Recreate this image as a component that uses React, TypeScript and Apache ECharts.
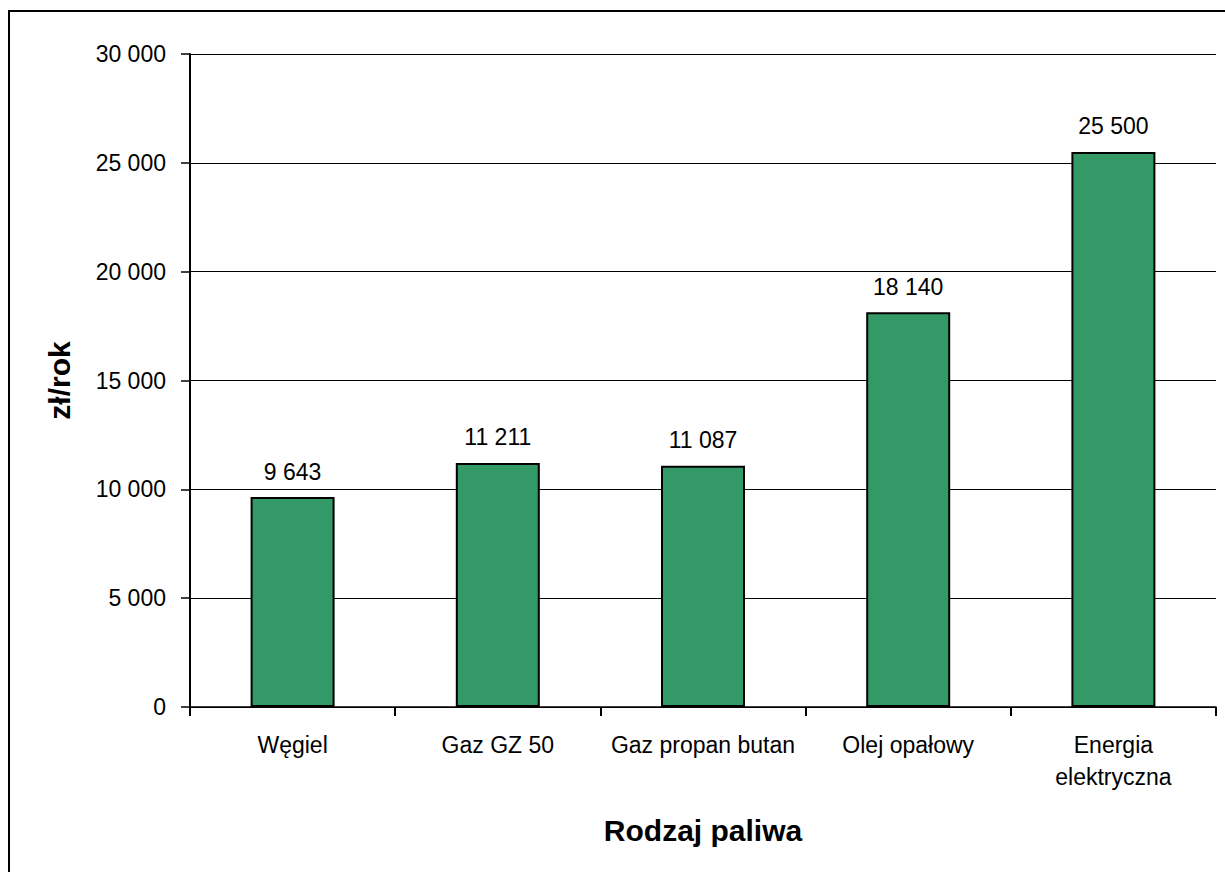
import React, { useEffect, useRef } from "react";
import * as echarts from "echarts";

const categories = ["Węgiel", "Gaz GZ 50", "Gaz propan butan", "Olej opałowy", "Energia\nelektryczna"];
const costs = [9643, 11211, 11087, 18140, 25500];
const yTicks = { min: 0, max: 30000, interval: 5000 };
const yName = "zł/rok";
const xName = "Rodzaj paliwa";

const fmt = (v: number) => String(v).replace(/\B(?=(\d{3})+(?!\d))/g, " ");
const FONT = "'Liberation Sans', Arial, sans-serif";

export default function App() {
  const ref = useRef<HTMLDivElement>(null);
  useEffect(() => {
    if (!ref.current) return;
    const chart = echarts.init(ref.current, undefined, { renderer: "svg" });
    chart.setOption({
      animation: false,
      backgroundColor: "#ffffff",
      textStyle: { fontFamily: FONT },
      graphic: [
        {
          type: "rect",
          shape: { x: 9, y: 11, width: 1400, height: 1000 },
          style: { fill: "none", stroke: "#000", lineWidth: 2 },
          silent: true,
        },
      ],
      grid: { left: 190, top: 54, right: 9, bottom: 165 },
      xAxis: {
        type: "category",
        data: categories,
        name: xName,
        nameLocation: "middle",
        nameGap: 108,
        nameTextStyle: { fontFamily: FONT, fontSize: 30, fontWeight: "bold", color: "#000", verticalAlign: "top" },
        axisLine: { lineStyle: { color: "#000", width: 1.5 } },
        axisTick: { show: true, length: 9, interval: 0, alignWithLabel: false, lineStyle: { color: "#000", width: 2 } },
        axisLabel: { interval: 0, margin: 22, fontFamily: FONT, fontSize: 23, color: "#000", lineHeight: 32 },
      },
      yAxis: {
        type: "value",
        min: yTicks.min,
        max: yTicks.max,
        interval: yTicks.interval,
        name: yName,
        nameLocation: "middle",
        nameGap: 116,
        nameRotate: 90,
        nameTextStyle: { fontFamily: FONT, fontSize: 30, fontWeight: "bold", color: "#000" },
        axisLine: { show: true, lineStyle: { color: "#000", width: 2 } },
        axisTick: { show: true, length: 9, lineStyle: { color: "#000", width: 1.5 } },
        axisLabel: { margin: 24, fontFamily: FONT, fontSize: 23, color: "#000", formatter: (v: number) => fmt(v) },
        splitLine: { show: true, lineStyle: { color: "#000", width: 1.2 } },
      },
      series: [
        {
          type: "bar",
          data: costs,
          barWidth: 84,
          itemStyle: { color: "#339966", borderColor: "#000", borderWidth: 2 },
          label: {
            show: true,
            position: "top",
            distance: 14,
            fontFamily: FONT,
            fontSize: 23,
            color: "#000",
            formatter: (p: any) => fmt(p.value),
          },
        },
      ],
    });
    return () => chart.dispose();
  }, []);
  return <div ref={ref} style={{ position: "absolute", left: 0, top: 0, width: 1225, height: 872 }} />;
}
